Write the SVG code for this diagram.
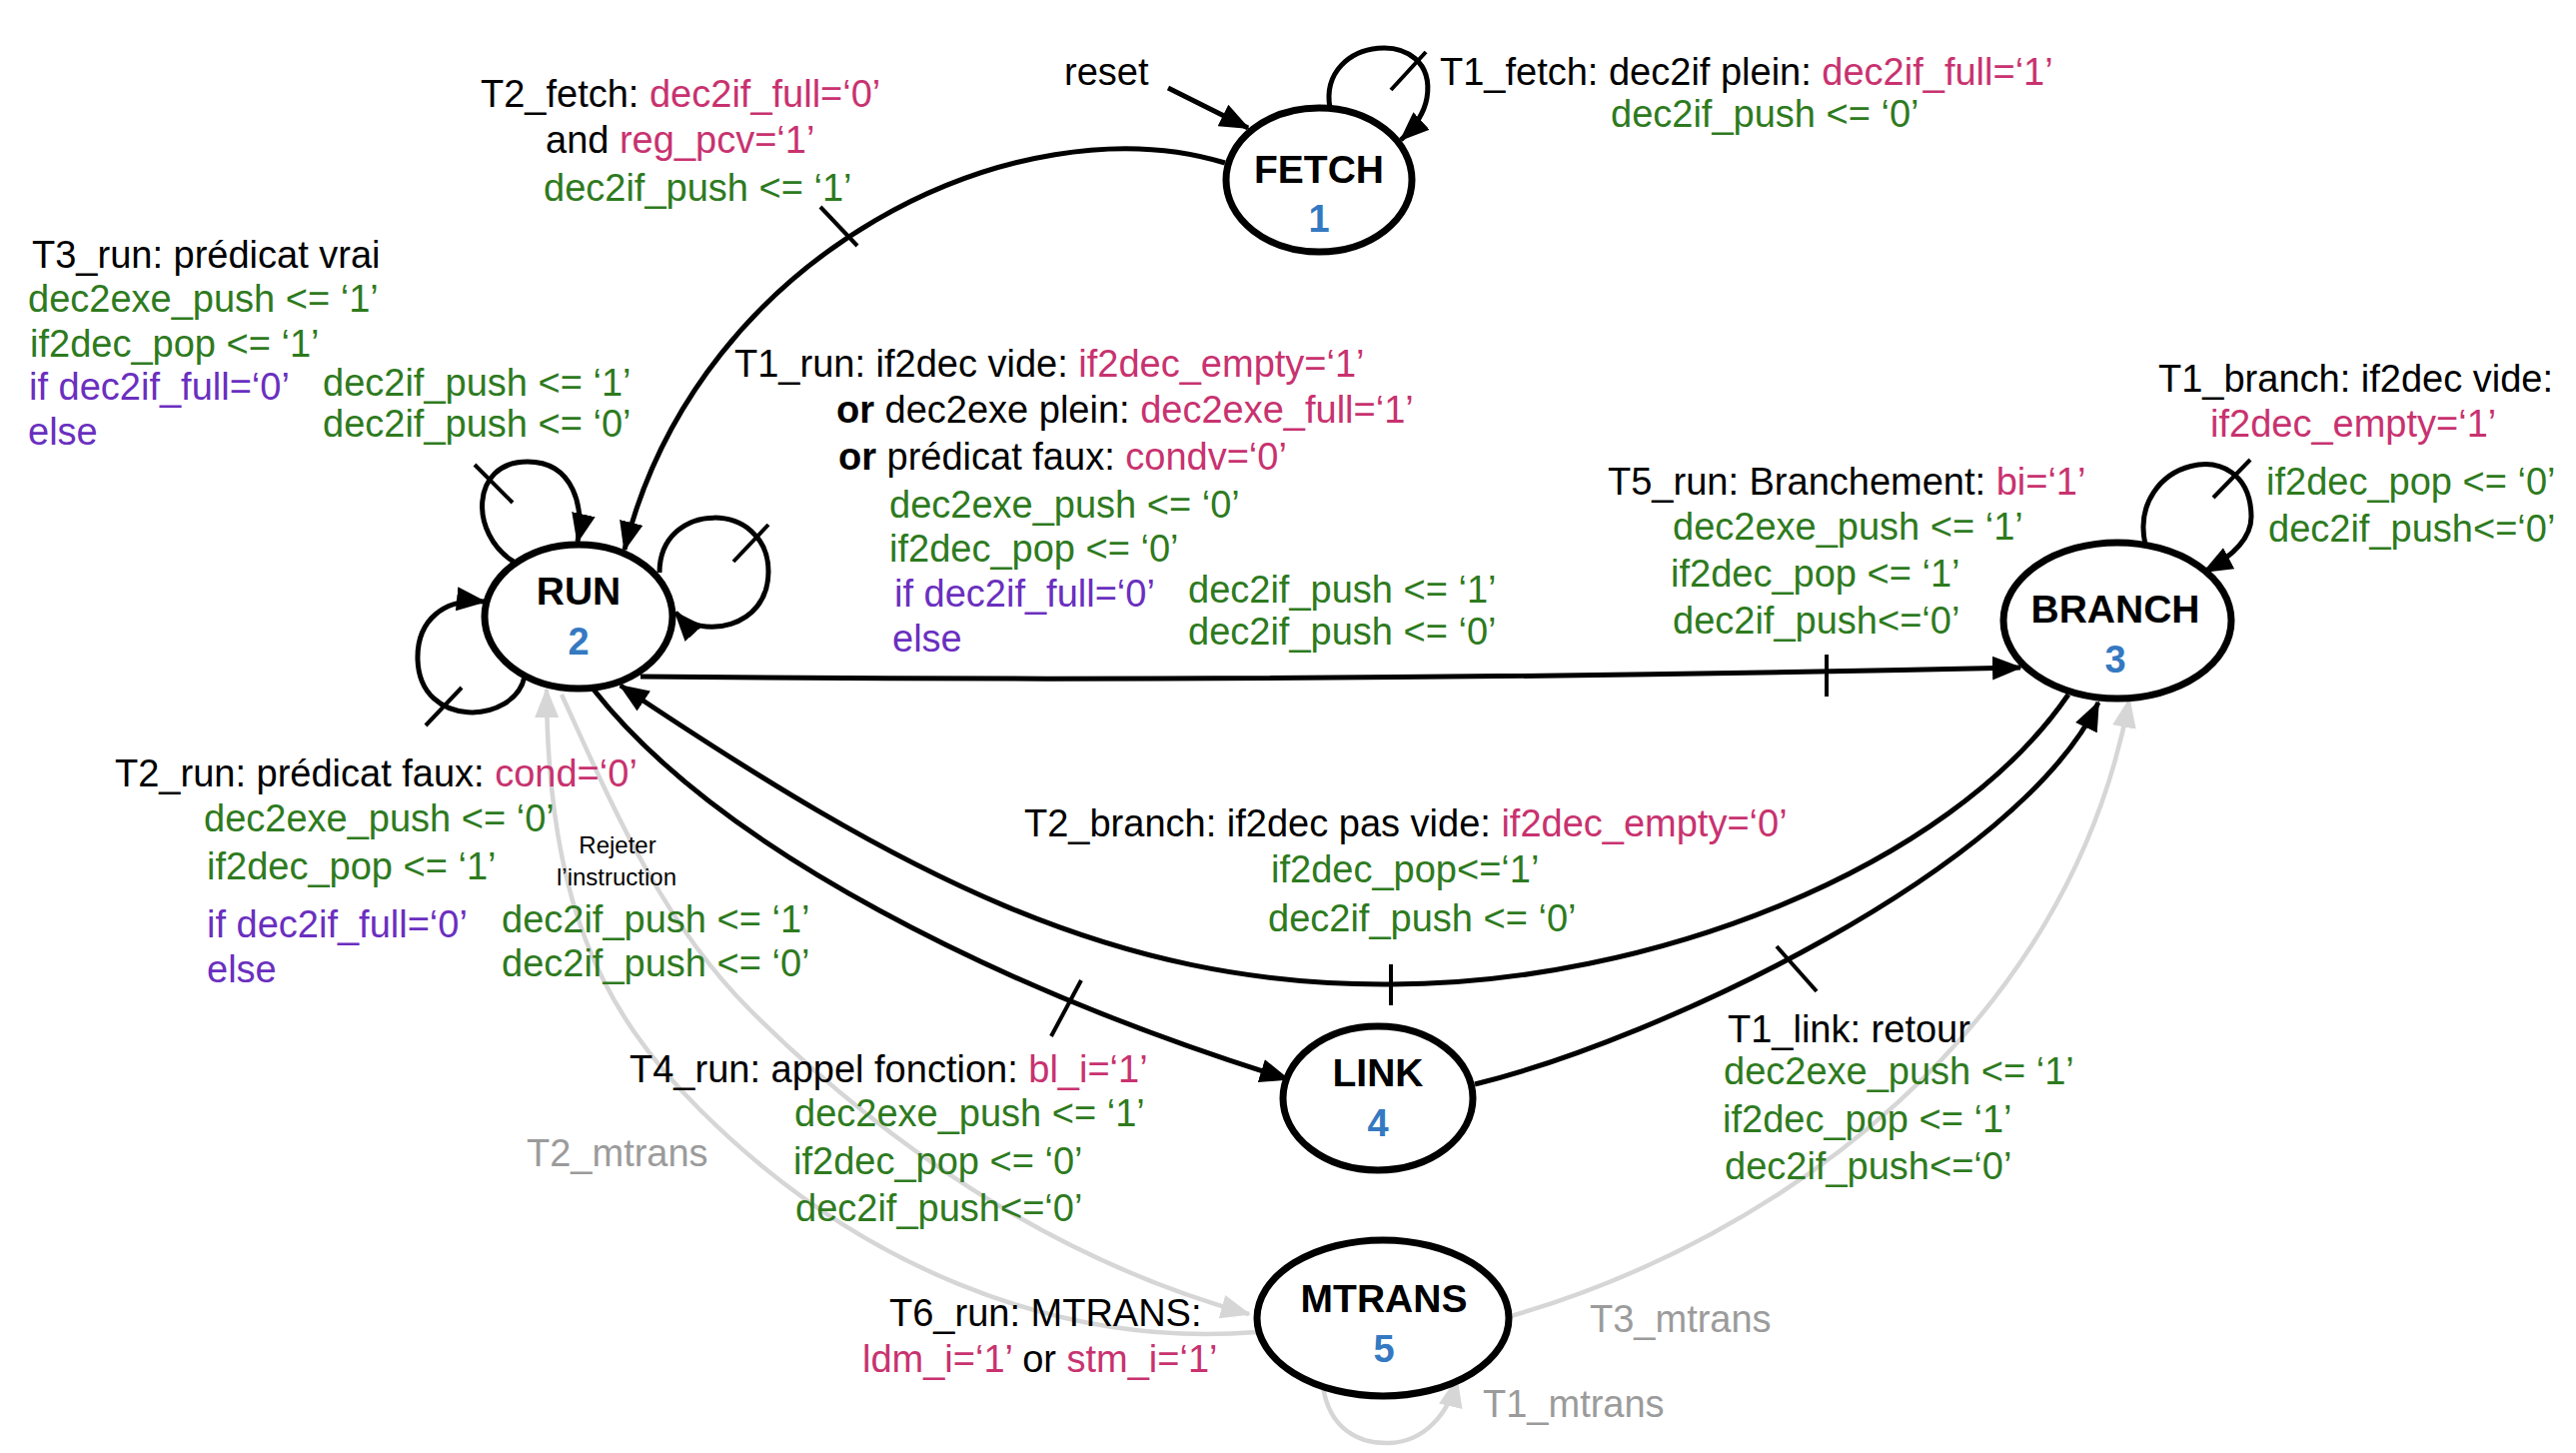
<svg xmlns="http://www.w3.org/2000/svg" width="2578" height="1454" viewBox="0 0 2578 1454">
<style>
text{font-family:"Liberation Sans",Arial,Helvetica,sans-serif;font-size:38px;fill:#000}
.g{fill:#2e7a1e}
.p{fill:#c8326f}
.v{fill:#6a2fbf}
.gr{fill:#9b9b9b}
.b{font-weight:bold}
.nl{font-weight:bold;font-size:39px;text-anchor:middle}
.nn{font-weight:bold;font-size:38px;text-anchor:middle;fill:#3479c1}
.sm{font-size:24px;text-anchor:middle}
.c{fill:none;stroke:#000;stroke-width:5}
.cg{fill:none;stroke:#d6d6d6;stroke-width:4.5}
.t{stroke:#000;stroke-width:4;fill:none}
.n{fill:#fff;stroke:#000;stroke-width:7}
</style>
<defs>
<marker id="arr" markerUnits="userSpaceOnUse" markerWidth="30" markerHeight="24" viewBox="0 0 30 24" refX="28" refY="12" orient="auto"><path d="M0,0 L30,12 L0,24 z" fill="#000"/></marker>
<marker id="arrg" markerUnits="userSpaceOnUse" markerWidth="30" markerHeight="24" viewBox="0 0 30 24" refX="28" refY="12" orient="auto"><path d="M0,0 L30,12 L0,24 z" fill="#d6d6d6"/></marker>
</defs>

<g id="connectors">
<path class="c" d="M1169,88 L1249,128" marker-end="url(#arr)"/>
<path class="c" d="M1331,108 C1318,35 1440,25 1428,98 C1425,115 1415,128 1402,140" marker-end="url(#arr)"/>
<path class="c" d="M1226,163 C1020,100 700,250 625,550" marker-end="url(#arr)"/>
<path class="c" d="M514,562 C470,535 470,462 528,462 C575,462 585,510 578,542" marker-end="url(#arr)"/>
<path class="c" d="M660,573 C660,500 769,500 769,572 C769,630 700,640 676,613" marker-end="url(#arr)"/>
<path class="c" d="M525,677 C515,725 420,730 418,660 C417,620 445,598 485,602" marker-end="url(#arr)"/>
<path class="c" d="M641,677 Q1300,684 2022,668" marker-end="url(#arr)"/>
<path class="c" d="M2147,545 C2128,460 2252,430 2253,517 C2253,540 2232,558 2206,572" marker-end="url(#arr)"/>
<path class="c" d="M594,690 C720,850 1000,990 1289,1080" marker-end="url(#arr)"/>
<path class="c" d="M2070,695 C1950,870 1650,985 1392,985 C1110,987 900,873 621,686" marker-end="url(#arr)"/>
<path class="c" d="M1476,1085 C1660,1040 2020,870 2100,703" marker-end="url(#arr)"/>
<path class="cg" d="M1258,1333 C1050,1350 850,1260 700,1110 C600,1010 548,900 547,690" marker-end="url(#arrg)"/>
<path class="cg" d="M562,695 C610,800 660,920 750,1010 C880,1140 1050,1260 1250,1315" marker-end="url(#arrg)"/>
<path class="cg" d="M1512,1317 C1780,1240 2070,1030 2131,700" marker-end="url(#arrg)"/>
<path class="cg" d="M1324,1387 C1330,1430 1360,1445 1390,1444 C1425,1443 1450,1415 1458,1380" marker-end="url(#arrg)"/>
<g id="ticks">
<path class="t" d="M821,207 L858,246"/>
<path class="t" d="M1427,52 L1392,90"/>
<path class="t" d="M475,465 L513,503"/>
<path class="t" d="M769,525 L734,562"/>
<path class="t" d="M462,688 L426,726"/>
<path class="t" d="M1828,655 L1828,697"/>
<path class="t" d="M2252,460 L2215,498"/>
<path class="t" d="M1082,981 L1052,1037"/>
<path class="t" d="M1392,965 L1392,1006"/>
<path class="t" d="M1778,947 L1818,992"/>
</g>
</g>

<g id="fetch">
<ellipse class="n" cx="1320" cy="180" rx="93" ry="72"/>
<text class="nl" x="1320" y="183">FETCH</text>
<text class="nn" x="1320" y="232">1</text>
</g>
<g id="run">
<ellipse class="n" cx="579" cy="617" rx="94" ry="72"/>
<text class="nl" x="579" y="605">RUN</text>
<text class="nn" x="579" y="655">2</text>
</g>
<g id="branch">
<ellipse class="n" cx="2119" cy="621" rx="114" ry="78"/>
<text class="nl" x="2117" y="623">BRANCH</text>
<text class="nn" x="2117" y="673">3</text>
</g>
<g id="link">
<ellipse class="n" cx="1379" cy="1099" rx="95" ry="72"/>
<text class="nl" x="1379" y="1087">LINK</text>
<text class="nn" x="1379" y="1137">4</text>
</g>
<g id="mtrans">
<ellipse class="n" cx="1384" cy="1319" rx="126" ry="78"/>
<text class="nl" x="1385" y="1313">MTRANS</text>
<text class="nn" x="1385" y="1363">5</text>
</g>

<g id="labels">
<text x="1065" y="85">reset</text>
<text x="1441" y="85">T1_fetch: dec2if plein: <tspan class="p">dec2if_full=‘1’</tspan></text>
<text class="g" x="1612" y="127">dec2if_push &lt;= ‘0’</text>

<text x="481" y="107">T2_fetch: <tspan class="p">dec2if_full=‘0’</tspan></text>
<text x="546" y="153">and <tspan class="p">reg_pcv=‘1’</tspan></text>
<text class="g" x="544" y="201">dec2if_push &lt;= ‘1’</text>

<text x="32" y="268">T3_run: prédicat vrai</text>
<text class="g" x="28" y="312">dec2exe_push &lt;= ‘1’</text>
<text class="g" x="30" y="357">if2dec_pop &lt;= ‘1’</text>
<text class="v" x="29" y="400">if dec2if_full=‘0’</text>
<text class="v" x="28" y="445">else</text>
<text class="g" x="323" y="396">dec2if_push &lt;= ‘1’</text>
<text class="g" x="323" y="437">dec2if_push &lt;= ‘0’</text>

<text x="735" y="377">T1_run: if2dec vide: <tspan class="p">if2dec_empty=‘1’</tspan></text>
<text x="837" y="423"><tspan class="b">or</tspan> dec2exe plein: <tspan class="p">dec2exe_full=‘1’</tspan></text>
<text x="839" y="470"><tspan class="b">or</tspan> prédicat faux: <tspan class="p">condv=‘0’</tspan></text>
<text class="g" x="890" y="518">dec2exe_push &lt;= ‘0’</text>
<text class="g" x="890" y="562">if2dec_pop &lt;= ‘0’</text>
<text class="v" x="895" y="607">if dec2if_full=‘0’</text>
<text class="v" x="893" y="652">else</text>
<text class="g" x="1189" y="603">dec2if_push &lt;= ‘1’</text>
<text class="g" x="1189" y="645">dec2if_push &lt;= ‘0’</text>

<text x="1609" y="495">T5_run: Branchement: <tspan class="p">bi=‘1’</tspan></text>
<text class="g" x="1674" y="540">dec2exe_push &lt;= ‘1’</text>
<text class="g" x="1672" y="587">if2dec_pop &lt;= ‘1’</text>
<text class="g" x="1674" y="634">dec2if_push&lt;=‘0’</text>

<text x="2160" y="392">T1_branch: if2dec vide:</text>
<text class="p" x="2212" y="437">if2dec_empty=‘1’</text>
<text class="g" x="2268" y="495">if2dec_pop &lt;= ‘0’</text>
<text class="g" x="2270" y="542">dec2if_push&lt;=‘0’</text>

<text x="115" y="787">T2_run: prédicat faux: <tspan class="p">cond=‘0’</tspan></text>
<text class="g" x="204" y="832">dec2exe_push &lt;= ‘0’</text>
<text class="g" x="207" y="880">if2dec_pop &lt;= ‘1’</text>
<text class="v" x="207" y="938">if dec2if_full=‘0’</text>
<text class="v" x="207" y="983">else</text>
<text class="g" x="502" y="933">dec2if_push &lt;= ‘1’</text>
<text class="g" x="502" y="977">dec2if_push &lt;= ‘0’</text>
<text class="sm" x="618" y="854">Rejeter</text>
<text class="sm" x="617" y="886">l’instruction</text>

<text x="1025" y="837">T2_branch: if2dec pas vide: <tspan class="p">if2dec_empty=‘0’</tspan></text>
<text class="g" x="1272" y="883">if2dec_pop&lt;=‘1’</text>
<text class="g" x="1269" y="932">dec2if_push &lt;= ‘0’</text>

<text x="630" y="1083">T4_run: appel fonction: <tspan class="p">bl_i=‘1’</tspan></text>
<text class="g" x="795" y="1127">dec2exe_push &lt;= ‘1’</text>
<text class="g" x="794" y="1175">if2dec_pop &lt;= ‘0’</text>
<text class="g" x="796" y="1222">dec2if_push&lt;=‘0’</text>

<text x="1729" y="1043">T1_link: retour</text>
<text class="g" x="1725" y="1085">dec2exe_push &lt;= ‘1’</text>
<text class="g" x="1724" y="1133">if2dec_pop &lt;= ‘1’</text>
<text class="g" x="1726" y="1180">dec2if_push&lt;=‘0’</text>

<text class="gr" x="527" y="1167">T2_mtrans</text>
<text class="gr" x="1591" y="1333">T3_mtrans</text>
<text class="gr" x="1484" y="1418">T1_mtrans</text>
<text x="890" y="1327">T6_run: MTRANS:</text>
<text x="863" y="1373"><tspan class="p">ldm_i=‘1’</tspan> or <tspan class="p">stm_i=‘1’</tspan></text>
</g>
</svg>
